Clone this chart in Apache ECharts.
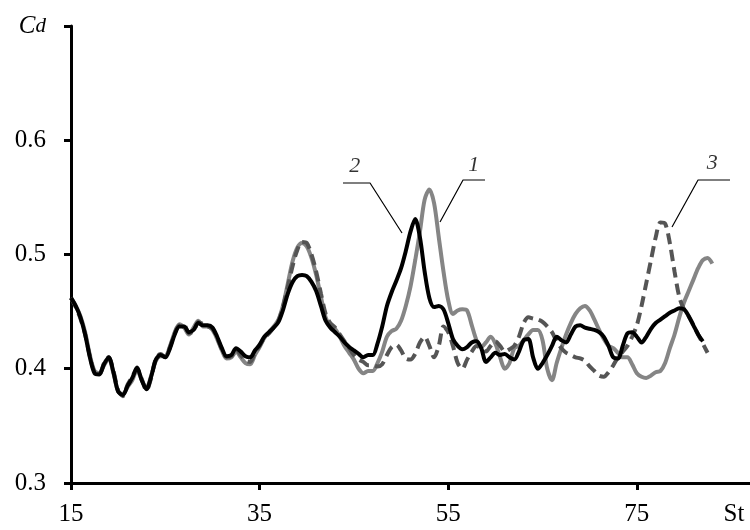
<!DOCTYPE html>
<html>
<head>
<meta charset="utf-8">
<script src="https://cdn.jsdelivr.net/npm/echarts@6/dist/echarts.min.js"></script>
<style>
  html, body { margin: 0; padding: 0; background: #fff; }
  #chart { width: 750px; height: 530px; }
</style>
</head>
<body>
<div id="chart"></div>
<script>
// St (x) sample points
const xs = [
  15, 15.5, 16, 16.5, 17, 17.5, 18, 18.5, 19, 19.5,
  20, 20.5, 21, 21.5, 22, 22.5, 23, 23.5, 24, 24.5,
  25, 25.5, 26, 26.5, 27, 27.5, 28, 28.5, 29, 29.5,
  30, 30.5, 31, 31.5, 32, 32.5, 33, 33.5, 34, 34.5,
  35, 35.5, 36, 36.5, 37, 37.5, 38, 38.5, 39, 39.5,
  40, 40.5, 41, 41.5, 42, 42.5, 43, 43.5, 44, 44.5,
  45, 45.5, 46, 46.5, 47, 47.5, 48, 48.5, 49, 49.5,
  50, 50.5, 51, 51.5, 52, 52.5, 53, 53.5, 54, 54.5,
  55, 55.5, 56, 56.5, 57, 57.5, 58, 58.5, 59, 59.5,
  60, 60.5, 61, 61.5, 62, 62.5, 63, 63.5, 64, 64.5,
  65, 65.5, 66, 66.5, 67, 67.5, 68, 68.5, 69, 69.5,
  70, 70.5, 71, 71.5, 72, 72.5, 73, 73.5, 74, 74.5,
  75, 75.5, 76, 76.5, 77, 77.5, 78, 78.5, 79, 79.5,
  80, 80.5, 81, 81.5, 82, 82.5, 83
];

// curve 1 (grey)
const cd1 = [
  0.462, 0.455, 0.446, 0.432, 0.412, 0.398, 0.396, 0.403, 0.409, 0.396,
  0.380, 0.378, 0.384, 0.390, 0.399, 0.390, 0.383, 0.394, 0.407, 0.411,
  0.411, 0.420, 0.432, 0.439, 0.436, 0.430, 0.436, 0.442, 0.437, 0.437,
  0.434, 0.426, 0.416, 0.409, 0.410, 0.415, 0.410, 0.405, 0.404, 0.412,
  0.419, 0.427, 0.432, 0.437, 0.443, 0.456, 0.475, 0.494, 0.506, 0.510,
  0.507, 0.497, 0.482, 0.463, 0.445, 0.437, 0.435, 0.428, 0.420, 0.414,
  0.408, 0.400, 0.396, 0.398, 0.398, 0.405, 0.415, 0.428, 0.433, 0.435,
  0.442, 0.455, 0.472, 0.495, 0.520, 0.548, 0.557, 0.545, 0.515, 0.485,
  0.460, 0.448, 0.451, 0.452, 0.451, 0.438, 0.425, 0.419, 0.423, 0.428,
  0.422, 0.410, 0.400, 0.405, 0.418, 0.420, 0.425, 0.430, 0.434, 0.434,
  0.425, 0.400, 0.390, 0.405, 0.418, 0.430, 0.440, 0.448, 0.453, 0.455,
  0.451, 0.443, 0.434, 0.426, 0.420, 0.418, 0.414, 0.410, 0.410, 0.404,
  0.396, 0.393, 0.392, 0.394, 0.397, 0.398, 0.405, 0.418, 0.430, 0.445,
  0.458, 0.468, 0.478, 0.488, 0.495, 0.497, 0.492
];

// curve 2 (black)
const cd2 = [
  0.462, 0.455, 0.445, 0.430, 0.410, 0.396, 0.395, 0.404, 0.410, 0.397,
  0.380, 0.377, 0.385, 0.392, 0.401, 0.390, 0.382, 0.393, 0.408, 0.412,
  0.410, 0.418, 0.430, 0.437, 0.437, 0.432, 0.434, 0.440, 0.438, 0.438,
  0.436, 0.428, 0.418, 0.411, 0.412, 0.418, 0.415, 0.411, 0.410, 0.416,
  0.421, 0.428, 0.432, 0.436, 0.441, 0.452, 0.466, 0.476, 0.481, 0.482,
  0.481, 0.476, 0.468, 0.455, 0.442, 0.436, 0.432, 0.428, 0.423, 0.419,
  0.416, 0.413, 0.410, 0.412, 0.412, 0.422, 0.437, 0.455, 0.467, 0.477,
  0.488, 0.503, 0.520, 0.531, 0.515, 0.485, 0.462, 0.454, 0.455, 0.452,
  0.440, 0.426, 0.420, 0.417, 0.419, 0.423, 0.424, 0.418, 0.406, 0.410,
  0.414, 0.412, 0.413, 0.410, 0.408, 0.415, 0.425, 0.426, 0.410, 0.400,
  0.405, 0.412, 0.420, 0.428, 0.425, 0.423, 0.430, 0.437, 0.438, 0.436,
  0.435, 0.434, 0.432, 0.428, 0.420, 0.410, 0.409, 0.420, 0.431, 0.432,
  0.428, 0.423, 0.428, 0.435, 0.440, 0.443, 0.446, 0.449, 0.451, 0.453,
  0.452, 0.446, 0.438, 0.430, 0.424, null, null
];

// curve 3 (dashed)
const cd3 = [
  0.462, 0.454, 0.444, 0.430, 0.411, 0.397, 0.395, 0.405, 0.410, 0.398,
  0.381, 0.376, 0.386, 0.393, 0.400, 0.391, 0.381, 0.392, 0.409, 0.413,
  0.410, 0.419, 0.431, 0.438, 0.438, 0.431, 0.433, 0.441, 0.439, 0.437,
  0.435, 0.427, 0.417, 0.410, 0.411, 0.417, 0.412, 0.407, 0.406, 0.414,
  0.420, 0.427, 0.431, 0.436, 0.442, 0.455, 0.472, 0.490, 0.504, 0.511,
  0.510, 0.500, 0.485, 0.466, 0.448, 0.440, 0.436, 0.430, 0.424, 0.418,
  0.412, 0.408, 0.406, 0.403, 0.403, 0.402, 0.404, 0.412, 0.419, 0.421,
  0.416, 0.409, 0.408, 0.413, 0.423, 0.428, 0.420, 0.410, 0.420, 0.437,
  0.432, 0.420, 0.405, 0.400, 0.408, 0.415, 0.420, 0.418, 0.415, 0.420,
  0.424, 0.420, 0.415, 0.417, 0.420, 0.428, 0.440, 0.445, 0.444, 0.443,
  0.441, 0.437, 0.432, 0.424, 0.418, 0.414, 0.412, 0.410, 0.409, 0.407,
  0.402, 0.398, 0.394, 0.393, 0.397, 0.403, 0.410, 0.415, 0.420, 0.428,
  0.438, 0.455, 0.475, 0.495, 0.515, 0.528, 0.527, 0.510, 0.485, 0.463,
  0.452, 0.446, 0.438, 0.430, 0.422, 0.414, null
];

const xTicks = [15, 35, 55, 75];
const yTicks = [0.3, 0.4, 0.5, 0.6, 0.7];

// curve numbers and their leader lines (data coords)
const curveNames = ['1', '2', '3'];
const namePos = [[57.7, 0.578], [45.1, 0.577], [83.0, 0.58]];
const leaders = [
  [[58.9, 0.5652], [56.57, 0.5652], [54.13, 0.5284]],
  [[43.84, 0.5626], [46.71, 0.5626], [50.1, 0.5188]],
  [[84.88, 0.5652], [81.49, 0.5652], [78.73, 0.524]]
];

const serif = 'Liberation Serif';

function pairs(ys) {
  return xs.map((x, i) => [x, ys[i]]);
}

let chart = echarts.init(document.getElementById('chart'));

let series = [
  {
    name: '1', type: 'line', data: pairs(cd1), showSymbol: false, smooth: 0.3,
    lineStyle: { color: '#858585', width: 4 }, z: 2
  },
  {
    name: '3', type: 'line', data: pairs(cd3), showSymbol: false, smooth: 0.3,
    lineStyle: { color: '#555555', width: 4, type: [11, 6] }, z: 3
  },
  {
    name: '2', type: 'line', data: pairs(cd2), showSymbol: false, smooth: 0.3,
    lineStyle: { color: '#000000', width: 4 }, z: 4
  }
];

// leader lines
leaders.forEach(function (pts) {
  series.push({
    type: 'line', data: pts, showSymbol: false, silent: true,
    lineStyle: { color: '#000', width: 1.2 }, z: 5
  });
});

// curve numbers
series.push({
  type: 'scatter', symbolSize: 0, silent: true, z: 6,
  data: curveNames.map((n, i) => ({ name: n, value: namePos[i] })),
  label: {
    show: true, position: 'inside', formatter: '{b}',
    fontFamily: serif, fontStyle: 'italic', fontSize: 22, color: '#000'
  }
});

let option = {
  animation: false,
  backgroundColor: '#fff',
  grid: { left: 71, right: 0, top: 26, bottom: 47 },
  xAxis: {
    type: 'value',
    min: 15,
    max: 87,
    axisLine: { lineStyle: { color: '#000', width: 3 } },
    axisTick: { show: true, customValues: xTicks, length: 7, lineStyle: { color: '#000', width: 3 } },
    axisLabel: {
      customValues: xTicks.concat([85.3]),
      formatter: function (v) { return v > 80 ? 'St' : String(v); },
      margin: 19,
      fontFamily: serif, fontSize: 25, color: '#000'
    },
    splitLine: { show: false }
  },
  yAxis: {
    type: 'value',
    min: 0.3,
    max: 0.7,
    interval: 0.1,
    axisLine: { show: true, lineStyle: { color: '#000', width: 3 } },
    axisTick: { show: true, length: 7, lineStyle: { color: '#000', width: 3 } },
    axisLabel: {
      margin: 25,
      fontFamily: serif, fontSize: 25, color: '#000',
      formatter: function (v) {
        if (Math.abs(v - yTicks[4]) < 1e-6) return '{c|C}{d|d}';
        return v.toFixed(1);
      },
      rich: {
        c: { fontFamily: serif, fontStyle: 'italic', fontSize: 25, color: '#000' },
        d: { fontFamily: serif, fontStyle: 'italic', fontSize: 21, color: '#000' }
      }
    },
    splitLine: { show: false }
  },
  series: series
};

option && chart.setOption(option);
</script>
</body>
</html>
